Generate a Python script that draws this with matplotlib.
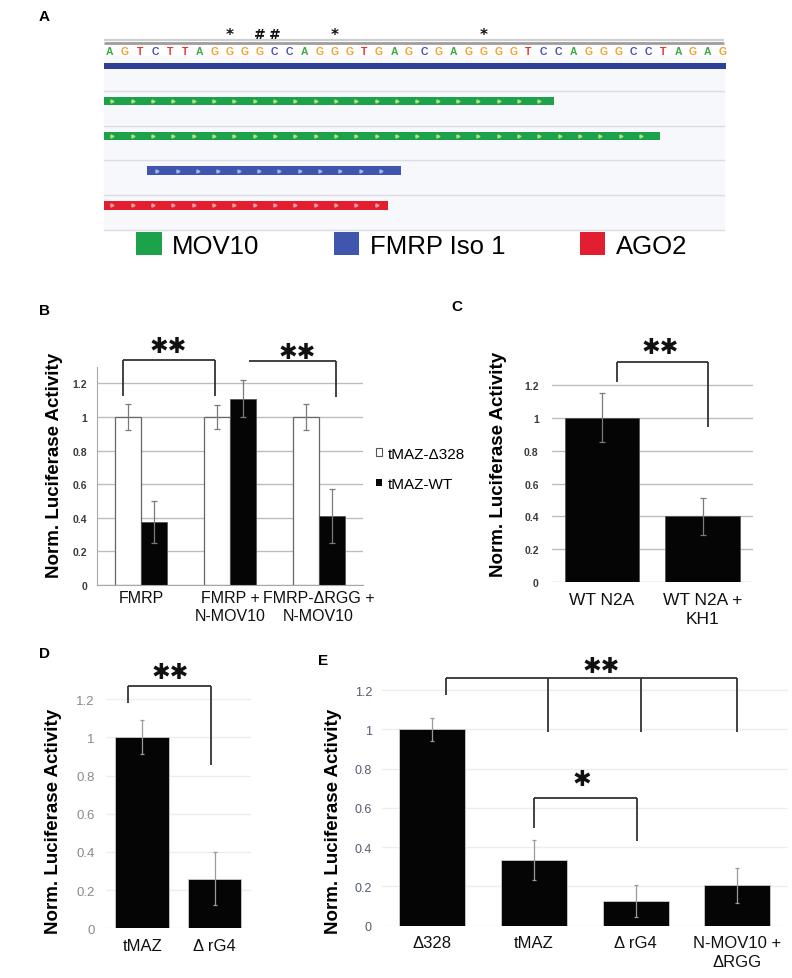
import matplotlib
matplotlib.use("Agg")
import matplotlib.pyplot as plt
from matplotlib.patches import Patch
import numpy as np

plt.rcParams['font.family'] = ['Liberation Sans', 'DejaVu Sans']

# ---------------- data ----------------
# Panel A: sequence track
seq = "AGTCTTAGGGGCCAGGGTGAGCGAGGGGTCCAGGGCCTAGAG"
mark_pos = [8, 10, 11, 15, 25]
mark_sym = ['*', '#', '#', '*', '*']
track_start = [0, 0, 0, 3, 0]
track_end = [41.6, 30.1, 37.2, 20.0, 19.0]
track_kind = ['ref', 'MOV10', 'MOV10', 'FMRP Iso 1', 'AGO2']
legend_names = ['MOV10', 'FMRP Iso 1', 'AGO2']

# Panel B
b_groups = ['FMRP', 'FMRP +\nN-MOV10', 'FMRP-ΔRGG +\nN-MOV10']
b_d328 = [1.0, 1.0, 1.0]
b_d328_err = [0.08, 0.07, 0.075]
b_wt = [0.375, 1.11, 0.41]
b_wt_err = [0.125, 0.11, 0.16]
b_series = ['tMAZ-Δ328', 'tMAZ-WT']

# Panel C
c_labels = ['WT N2A', 'WT N2A +\nKH1']
c_vals = [1.0, 0.40]
c_err = [0.15, 0.115]

# Panel D
d_labels = ['tMAZ', 'Δ rG4']
d_vals = [1.0, 0.26]
d_err = [0.09, 0.14]

# Panel E
e_labels = ['Δ328', 'tMAZ', 'Δ rG4', 'N-MOV10 +\nΔRGG']
e_vals = [1.0, 0.335, 0.125, 0.205]
e_err = [0.06, 0.10, 0.08, 0.09]

yticks = [0, 0.2, 0.4, 0.6, 0.8, 1.0, 1.2]
ytick_labels = ['0', '0.2', '0.4', '0.6', '0.8', '1', '1.2']
ylab = 'Norm. Luciferase Activity'

# ---------------- figure ----------------
W, H = 792, 979
fig = plt.figure(figsize=(W / 100, H / 100), dpi=100)
fig.patch.set_facecolor('white')


def px_axes(l, t, r, b):
    return fig.add_axes([l / W, 1 - b / H, (r - l) / W, (b - t) / H])


# ---------------- Panel A ----------------
axA = px_axes(96, 25, 735, 262)
axA.set_xlim(-0.435, 42.31)
axA.set_ylim(5.595, -1.205)
axA.axis('off')

letter_col = {'A': '#3aa843', 'G': '#f2a22c', 'T': '#e3342f', 'C': '#4a4fb8'}
xmin_t, xmax_t = 0.1, 41.6
axA.axhspan(-0.29, 4.71, xmin=(xmin_t + 0.435) / 42.745, xmax=(xmax_t + 0.435) / 42.745,
            color='#f7f8fc', zorder=0)
axA.plot([xmin_t, xmax_t], [-0.76, -0.76], color='#cfcfcf', lw=1.6, solid_capstyle='butt')
axA.plot([xmin_t, xmax_t], [-0.66, -0.66], color='#9e9e9e', lw=2.0, solid_capstyle='butt')
for i, ch in enumerate(seq):
    axA.text(i + 0.5, -0.44, ch, color=letter_col[ch], fontsize=7.5, fontweight='bold',
             ha='center', va='center')
for p, s in zip(mark_pos, mark_sym):
    axA.text(p + 0.5, -0.93 if s == '#' else -0.90, s, fontsize=10 if s == '#' else 11,
             fontweight='bold', ha='center', va='center', color='#111111', family=['DejaVu Sans'])
for r in range(5):
    axA.plot([xmin_t, xmax_t], [r + 0.71, r + 0.71], color='#dcdde4', lw=1.0)

kind_col = {'ref': '#2f3f98', 'MOV10': '#1ba24b', 'FMRP Iso 1': '#4055ad', 'AGO2': '#e11f30'}
chev_col = {'MOV10': '#b6e07a', 'FMRP Iso 1': '#aab4e6', 'AGO2': '#f4a0a8'}
for r, (s, e, k) in enumerate(zip(track_start, track_end, track_kind)):
    h = 0.19 if k == 'ref' else 0.24
    axA.barh(r, e - s, left=s + (0.1 if s == 0 else 0), height=h, color=kind_col[k],
             edgecolor='none', zorder=2)
    if k != 'ref':
        xs = np.arange(s + 0.66, e - 0.4, 1.36)
        axA.plot(xs, np.full_like(xs, r), linestyle='none', marker='>', markersize=2.2,
                 color=chev_col[k], zorder=3)

leg_handles = [Patch(facecolor=kind_col[k], edgecolor='none') for k in legend_names]
fig.legend(leg_handles, legend_names, loc='center', bbox_to_anchor=(411.5 / W, 1 - 246 / H),
           ncol=3, frameon=False, fontsize=18.5, handlelength=1.0, handleheight=1.0,
           handletextpad=0.4, columnspacing=2.9, borderpad=0, borderaxespad=0)


# ---------------- helpers ----------------
def bracket(ax, x0, x1, ytop, legs, color='#333333', lw=1.3):
    ax.plot([x0, x1], [ytop, ytop], color=color, lw=lw, clip_on=False, solid_capstyle='butt')
    for lx, ly in legs:
        ax.plot([lx, lx], [ytop, ly], color=color, lw=lw, clip_on=False, solid_capstyle='butt')


def stars(ax, x, y, s, size=16):
    ax.text(x, y, s, ha='center', va='center', fontsize=size, color='#111111',
            family=['DejaVu Sans'], clip_on=False)


def style_axes(ax, n, labels, grid_col, tick_col, tick_fs, tick_w, tick_pad, xfs, xpad):
    ax.set_xlim(-0.5, n - 0.5)
    ax.set_ylim(0, 1.3)
    ax.set_yticks(yticks)
    ax.set_yticklabels(ytick_labels, fontsize=tick_fs, fontweight=tick_w, color=tick_col)
    ax.tick_params(axis='y', length=0, pad=tick_pad)
    ax.set_xticks(range(n))
    ax.set_xticklabels(labels, fontsize=xfs, linespacing=1.3, color='#111111')
    ax.tick_params(axis='x', length=0, pad=xpad)
    for sp in ax.spines.values():
        sp.set_visible(False)
    ax.grid(axis='y', color=grid_col, lw=1.0)
    ax.set_axisbelow(True)


# ---------------- Panel B ----------------
axB = px_axes(97, 367.6, 363, 586)
style_axes(axB, 3, b_groups, '#bdbdbd', '#3a3a3a', 7.5, 'bold', 7, 11.5, 3.5)
axB.spines['left'].set_visible(True)
axB.spines['bottom'].set_visible(True)
axB.spines['left'].set_color('#a8a8a8')
axB.spines['bottom'].set_color('#a8a8a8')
xb = np.arange(3)
bw = 0.293
axB.bar(xb - bw / 2, b_d328, bw, color='white', edgecolor='#666666', lw=0.9,
        yerr=b_d328_err, error_kw=dict(ecolor='#7a7a7a', lw=0.9, capsize=2.5, capthick=0.9),
        label=b_series[0], zorder=2)
axB.bar(xb + bw / 2, b_wt, bw, color='#050505', edgecolor='#555555', lw=0.6,
        yerr=b_wt_err, error_kw=dict(ecolor='#7a7a7a', lw=0.9, capsize=2.5, capthick=0.9),
        label=b_series[1], zorder=2)
axB.set_ylabel(ylab, fontsize=13.5, fontweight='bold', va='center')
axB.yaxis.set_label_coords(-0.158, 0.55)
hB = [Patch(facecolor='white', edgecolor='#555555', lw=0.8), Patch(facecolor='#050505')]
axB.legend(hB, b_series, loc='center left', bbox_to_anchor=(1.049, 0.532), frameon=False,
           fontsize=11, handlelength=0.4, handleheight=0.4, handletextpad=0.35,
           labelspacing=1.05, borderpad=0, borderaxespad=0)
bracket(axB, -0.207, 0.831, 1.341, [(-0.207, 1.125), (0.831, 1.125)])
stars(axB, 0.30, 1.42, '✱✱')
bracket(axB, 1.214, 2.195, 1.333, [(2.195, 1.119)])
stars(axB, 1.755, 1.387, '✱✱')

# ---------------- Panel C ----------------
axC = px_axes(551.7, 369.3, 753, 583.3)
style_axes(axC, 2, c_labels, '#bdbdbd', '#3a3a3a', 7.5, 'bold', 9.4, 12.5, 7)
axC.bar(range(2), c_vals, 0.74, color='#050505', edgecolor='#555555', lw=0.6,
        yerr=c_err, error_kw=dict(ecolor='#7a7a7a', lw=0.9, capsize=2.0, capthick=0.9), zorder=2)
axC.set_ylabel(ylab, fontsize=13.5, fontweight='bold', va='center')
axC.yaxis.set_label_coords(-0.265, 0.557)
bracket(axC, 0.146, 1.056, 1.34, [(0.146, 1.219), (1.056, 0.942)])
stars(axC, 0.576, 1.43, '✱✱')

# ---------------- Panel D ----------------
axD = px_axes(106, 681, 250.7, 929.3)
style_axes(axD, 2, d_labels, '#ededed', '#8a8a8a', 9.5, 'normal', 8, 12, 7)
axD.bar(range(2), d_vals, 0.74, color='#050505', edgecolor='#cccccc', lw=0.6,
        yerr=d_err, error_kw=dict(ecolor='#9a9a9a', lw=0.9, capsize=1.5, capthick=0.9), zorder=2)
axD.set_ylabel(ylab, fontsize=13.5, fontweight='bold', va='center')
axD.yaxis.set_label_coords(-0.364, 0.436)
bracket(axD, -0.192, 0.947, 1.27, [(-0.192, 1.18), (0.947, 0.855)])
stars(axD, 0.385, 1.342, '✱✱')

# ---------------- Panel E ----------------
axE = px_axes(381.7, 671.4, 788, 926.7)
style_axes(axE, 4, e_labels, '#ededed', '#555a70', 9.0, 'normal', 7, 12, 7)
axE.bar(range(4), e_vals, 0.65, color='#050505', edgecolor='#cccccc', lw=0.6,
        yerr=e_err, error_kw=dict(ecolor='#9a9a9a', lw=0.9, capsize=1.5, capthick=0.9), zorder=2)
axE.set_ylabel(ylab, fontsize=13.5, fontweight='bold', va='center')
axE.yaxis.set_label_coords(-0.119, 0.414)
bracket(axE, 0.13, 2.994, 1.261, [(0.13, 1.175), (1.14, 0.985), (2.049, 0.985), (2.994, 0.985)])
stars(axE, 1.665, 1.324, '✱✱')
bracket(axE, 1.0, 2.01, 0.65, [(1.0, 0.50), (2.01, 0.433)])
stars(axE, 1.47, 0.747, '✱')

# ---------------- panel letters ----------------
for lab, (px, py) in {'A': (44, 17), 'B': (44, 311), 'C': (457, 307),
                      'D': (44, 654), 'E': (323, 661)}.items():
    fig.text(px / W, 1 - py / H, lab, fontsize=11, fontweight='bold', ha='center', va='center')

fig.savefig('out.png', dpi=100, facecolor='white')
